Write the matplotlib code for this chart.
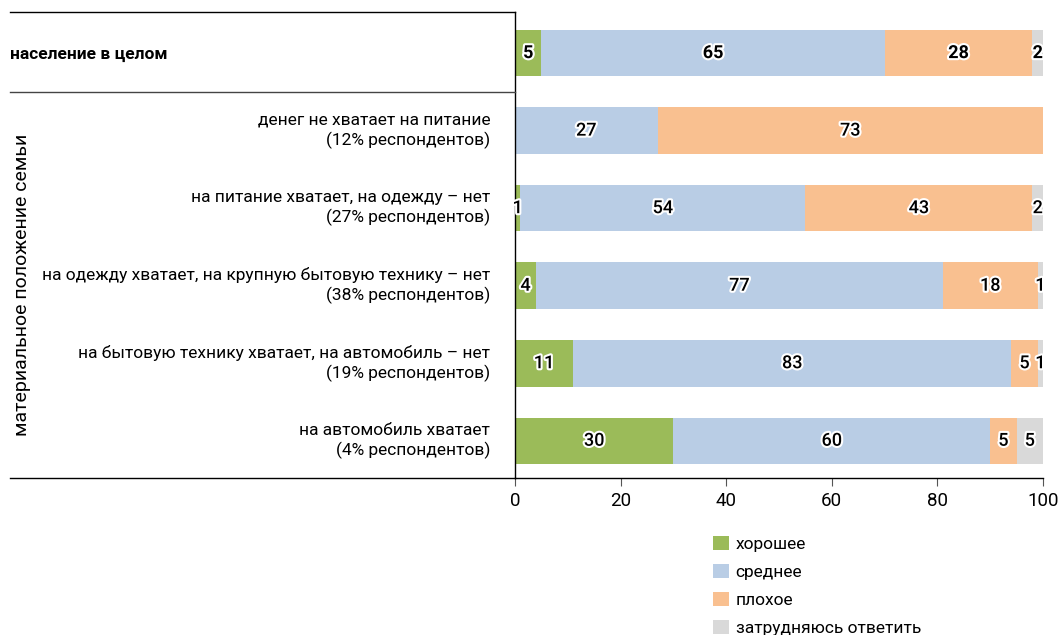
"""Оценка положения: горизонтальные накопительные столбцы по группам."""

import matplotlib

matplotlib.use("Agg")
import matplotlib.pyplot as plt
import matplotlib.patheffects as pe
from matplotlib.lines import Line2D
from matplotlib.patches import Patch
import numpy as np

plt.rcParams["font.family"] = ["Roboto", "DejaVu Sans"]

categories = [
    "население в целом",
    "денег не хватает на питание\n(12% респондентов)",
    "на питание хватает, на одежду – нет\n(27% респондентов)",
    "на одежду хватает, на крупную бытовую технику – нет\n(38% респондентов)",
    "на бытовую технику хватает, на автомобиль – нет\n(19% респондентов)",
    "на автомобиль хватает\n(4% респондентов)",
]
series_names = ["хорошее", "среднее", "плохое", "затрудняюсь ответить"]
good = [5, 0, 1, 4, 11, 30]
medium = [65, 27, 54, 77, 83, 60]
bad = [28, 73, 43, 18, 5, 5]
unsure = [2, 0, 2, 1, 1, 5]
colors = ["#9bbb59", "#b9cde5", "#f9c090", "#d9d9d9"]
ylabel = "материальное положение семьи"
xticks = [0, 20, 40, 60, 80, 100]

FS = 12.5

fig = plt.figure(figsize=(10.58, 6.35), dpi=100)
ax = fig.add_axes([515 / 1058, 1 - 478 / 635, 528 / 1058, 466 / 635])

y = np.arange(len(categories))
left = np.zeros(len(categories))
halo = [pe.withStroke(linewidth=3, foreground="white")]
for vals, color in zip([good, medium, bad, unsure], colors):
    vals = np.array(vals, dtype=float)
    ax.barh(y, vals, left=left, height=0.6, color=color, linewidth=0)
    for i, v in enumerate(vals):
        if v > 0:
            ax.text(left[i] + v / 2, y[i], f"{int(v)}", ha="center", va="center",
                    fontsize=13, fontweight="bold" if i == 0 else "medium",
                    path_effects=halo)
    left += vals

ax.set_xlim(0, 100)
ax.set_ylim(5.48, -0.53)
ax.set_yticks([])
ax.set_xticks(xticks)
ax.tick_params(axis="x", length=6, color="#555555", labelsize=13.5, pad=4)
for s in ["top", "right"]:
    ax.spines[s].set_visible(False)
ax.spines["left"].set_linewidth(1.0)
ax.spines["bottom"].set_linewidth(1.0)

# category labels
for i, cat in enumerate(categories):
    if i == 0:
        fig.text(10 / 1058, 1 - 54 / 635, cat, ha="left", va="center",
                 fontsize=FS, fontweight="bold")
    else:
        ax.text(-4.7, y[i], cat, ha="right", va="center", fontsize=FS,
                linespacing=1.3)

fig.text(22 / 1058, 1 - 285 / 635, ylabel, rotation=90, ha="center",
         va="center", fontsize=14)

# separator lines in the label area
for ypx, col in [(12, "black"), (92, "#444444"), (478, "black")]:
    fig.add_artist(Line2D([10 / 1058, 515 / 1058], [1 - ypx / 635] * 2,
                          transform=fig.transFigure, color=col, linewidth=1.0))

handles = [Patch(facecolor=c, edgecolor="none") for c in colors]
fig.legend(handles, series_names, loc="upper left",
           bbox_to_anchor=(706 / 1058, 1 - 529 / 635), frameon=False,
           fontsize=FS, handlelength=0.9, handleheight=0.9, handletextpad=0.4,
           labelspacing=0.68, borderaxespad=0)

fig.savefig("out.png", dpi=100)
